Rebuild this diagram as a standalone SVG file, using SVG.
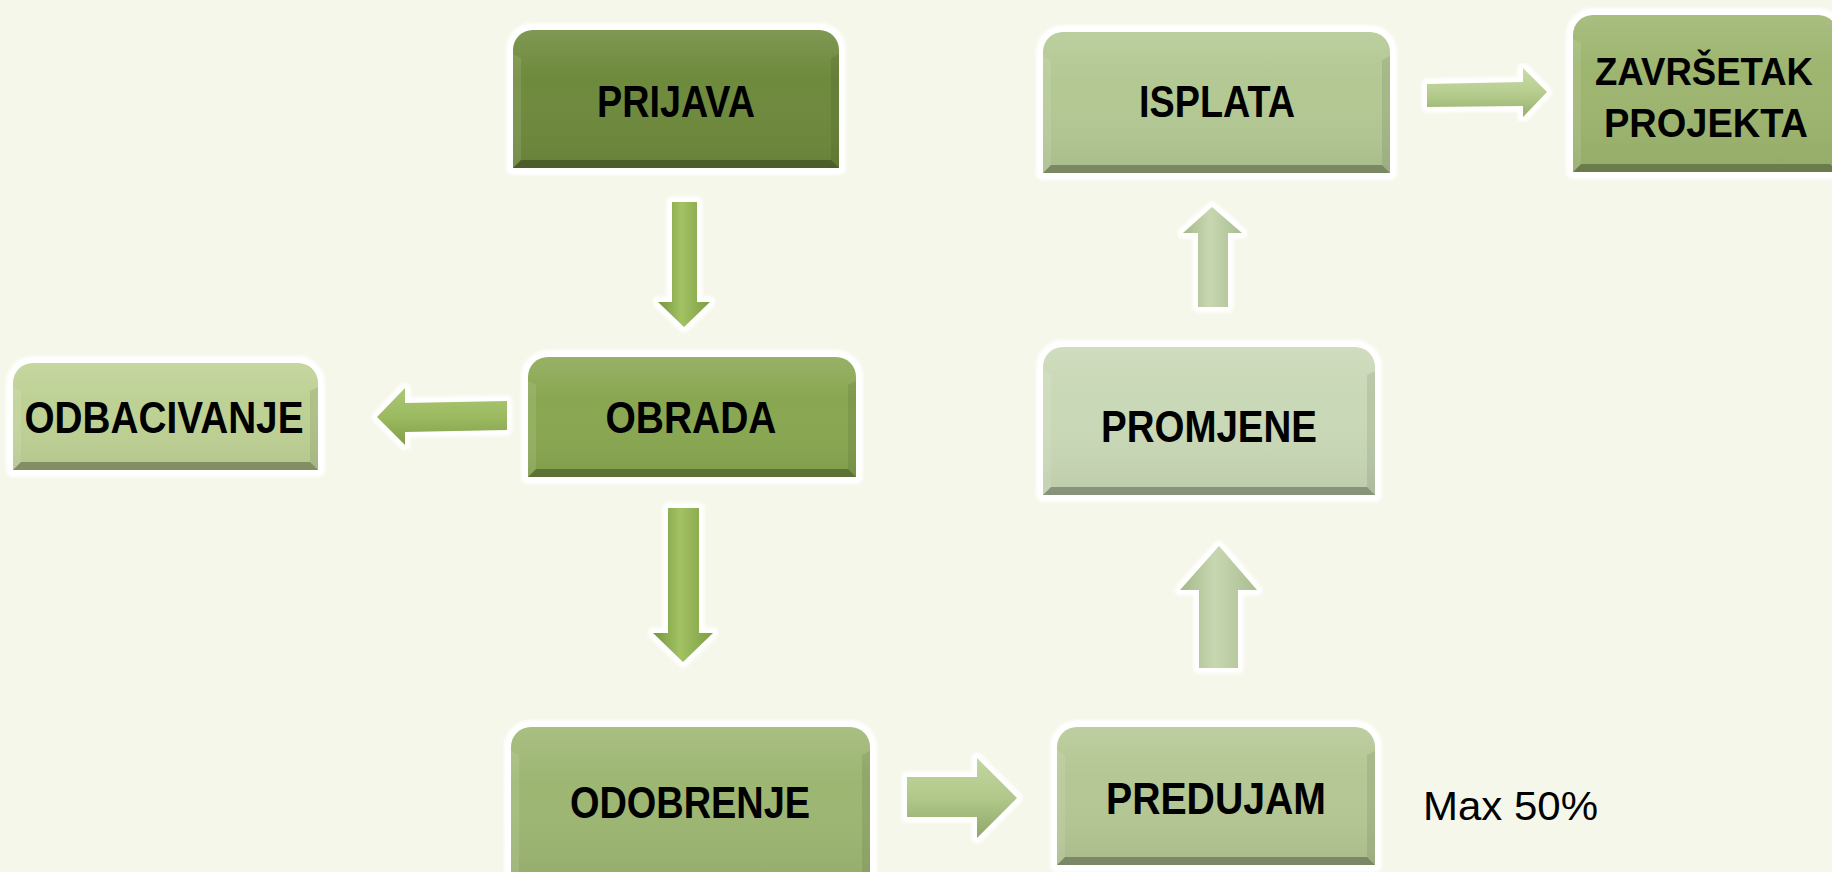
<svg xmlns="http://www.w3.org/2000/svg" width="1832" height="872" viewBox="0 0 1832 872">
  <defs>
    <style>
      .halo { fill: #ffffff; stroke: #ffffff; stroke-width: 14; stroke-linejoin: round; filter: url(#soft); }
      .ahalo { fill: #ffffff; stroke: #ffffff; stroke-width: 11; stroke-linejoin: round; filter: url(#soft); }
      .lbl { font-family: "Liberation Sans", Arial, sans-serif; font-weight: bold; font-size: 44px; fill: #000000; text-anchor: middle; }
      .lbl2 { font-family: "Liberation Sans", Arial, sans-serif; font-weight: bold; font-size: 41px; fill: #000000; text-anchor: middle; }
      .note { font-family: "Liberation Sans", Arial, sans-serif; font-size: 40px; fill: #000000; }
      .bevB { fill: #000000; fill-opacity: 0.28; }
      .bevR { fill: #000000; fill-opacity: 0.08; }
      .bevL { fill: #ffffff; fill-opacity: 0.10; }
    </style>
    <filter id="soft" x="-10%" y="-10%" width="120%" height="120%">
      <feGaussianBlur stdDeviation="1.5"/>
    </filter>
    <linearGradient id="shade" x1="0" y1="0" x2="0" y2="1">
      <stop offset="0" stop-color="#ffffff" stop-opacity="0.12"/>
      <stop offset="0.35" stop-color="#ffffff" stop-opacity="0"/>
      <stop offset="1" stop-color="#000000" stop-opacity="0.06"/>
    </linearGradient>
    <linearGradient id="gDown" x1="0" y1="0" x2="1" y2="0">
      <stop offset="0" stop-color="#74963c"/>
      <stop offset="0.45" stop-color="#a2c264"/>
      <stop offset="1" stop-color="#7d9d42"/>
    </linearGradient>
    <linearGradient id="gLeft" x1="0" y1="0" x2="0" y2="1">
      <stop offset="0" stop-color="#abc874"/>
      <stop offset="0.5" stop-color="#9cba60"/>
      <stop offset="1" stop-color="#7f9f48"/>
    </linearGradient>
    <linearGradient id="gRight" x1="0" y1="0" x2="0" y2="1">
      <stop offset="0" stop-color="#c2d6a0"/>
      <stop offset="0.5" stop-color="#b1c88a"/>
      <stop offset="1" stop-color="#8fa76a"/>
    </linearGradient>
    <linearGradient id="gUp" x1="0" y1="0" x2="1" y2="0">
      <stop offset="0" stop-color="#a4b88a"/>
      <stop offset="0.45" stop-color="#c8d7b1"/>
      <stop offset="1" stop-color="#aabd90"/>
    </linearGradient>
    <linearGradient id="gRight2" x1="0" y1="0" x2="0" y2="1">
      <stop offset="0" stop-color="#c9dca6"/>
      <stop offset="0.5" stop-color="#b6cd8f"/>
      <stop offset="1" stop-color="#97b06d"/>
    </linearGradient>
  </defs>

  <rect x="0" y="0" width="1832" height="872" fill="#f5f7ea"/>

  <g id="connectors">
    <g id="c-prijava-obrada">
      <polygon class="ahalo" points="672,202 697,202 697,302 710,302 684,327 658,302 672,302"/>
      <polygon fill="url(#gDown)" points="672,202 697,202 697,302 710,302 684,327 658,302 672,302"/>
    </g>
    <g id="c-obrada-odobrenje">
      <polygon class="ahalo" points="668,508 699,508 699,633 713,633 683,662 653,633 668,633"/>
      <polygon fill="url(#gDown)" points="668,508 699,508 699,633 713,633 683,662 653,633 668,633"/>
    </g>
    <g id="c-obrada-odbacivanje">
      <polygon class="ahalo" points="507,401 507,430 405,432 405,445 377,417 405,388 405,403"/>
      <polygon fill="url(#gLeft)" points="507,401 507,430 405,432 405,445 377,417 405,388 405,403"/>
    </g>
    <g id="c-odobrenje-predujam">
      <polygon class="ahalo" points="907,777 977,777 977,758 1017,798 977,838 977,817 907,817"/>
      <polygon fill="url(#gRight)" points="907,777 977,777 977,758 1017,798 977,838 977,817 907,817"/>
    </g>
    <g id="c-predujam-promjene">
      <polygon class="ahalo" points="1199,668 1199,590 1180,590 1219,546 1257,590 1238,590 1238,668"/>
      <polygon fill="url(#gUp)" points="1199,668 1199,590 1180,590 1219,546 1257,590 1238,590 1238,668"/>
    </g>
    <g id="c-promjene-isplata">
      <polygon class="ahalo" points="1198,307 1198,233 1183,233 1212,207 1242,233 1228,233 1228,307"/>
      <polygon fill="url(#gUp)" points="1198,307 1198,233 1183,233 1212,207 1242,233 1228,233 1228,307"/>
    </g>
    <g id="c-isplata-zavrsetak">
      <polygon class="ahalo" points="1427,84 1523,82 1523,68 1547,92 1523,117 1523,106 1427,107"/>
      <polygon fill="url(#gRight2)" points="1427,84 1523,82 1523,68 1547,92 1523,117 1523,106 1427,107"/>
    </g>
  </g>

  <g id="node-prijava">
    <path class="halo" d="M513,168 V50 A20,20 0 0 1 533,30 H819 A20,20 0 0 1 839,50 V168 Z"/>
    <path fill="#6e8a3c" d="M513,168 V50 A20,20 0 0 1 533,30 H819 A20,20 0 0 1 839,50 V168 Z"/>
    <path fill="url(#shade)" d="M513,168 V50 A20,20 0 0 1 533,30 H819 A20,20 0 0 1 839,50 V168 Z"/>
    <polygon class="bevB" points="513,168 839,168 831,160 521,160"/>
    <polygon class="bevR" points="839,54 839,168 831,160 831,58"/>
    <polygon class="bevL" points="513,54 513,168 521,160 521,58"/>
    <text class="lbl" x="676" y="117" textLength="158" lengthAdjust="spacingAndGlyphs">PRIJAVA</text>
  </g>

  <g id="node-obrada">
    <path class="halo" d="M528,477 V377 A20,20 0 0 1 548,357 H836 A20,20 0 0 1 856,377 V477 Z"/>
    <path fill="#89a751" d="M528,477 V377 A20,20 0 0 1 548,357 H836 A20,20 0 0 1 856,377 V477 Z"/>
    <path fill="url(#shade)" d="M528,477 V377 A20,20 0 0 1 548,357 H836 A20,20 0 0 1 856,377 V477 Z"/>
    <polygon class="bevB" points="528,477 856,477 848,469 536,469"/>
    <polygon class="bevR" points="856,381 856,477 848,469 848,385"/>
    <polygon class="bevL" points="528,381 528,477 536,469 536,385"/>
    <text class="lbl" x="691" y="433" textLength="171" lengthAdjust="spacingAndGlyphs">OBRADA</text>
  </g>

  <g id="node-odbacivanje">
    <path class="halo" d="M13,470 V383 A20,20 0 0 1 33,363 H298 A20,20 0 0 1 318,383 V470 Z"/>
    <path fill="#bed194" d="M13,470 V383 A20,20 0 0 1 33,363 H298 A20,20 0 0 1 318,383 V470 Z"/>
    <path fill="url(#shade)" d="M13,470 V383 A20,20 0 0 1 33,363 H298 A20,20 0 0 1 318,383 V470 Z"/>
    <polygon class="bevB" points="13,470 318,470 310,462 21,462"/>
    <polygon class="bevR" points="318,387 318,470 310,462 310,391"/>
    <polygon class="bevL" points="13,387 13,470 21,462 21,391"/>
    <text class="lbl" x="164" y="433" textLength="279" lengthAdjust="spacingAndGlyphs">ODBACIVANJE</text>
  </g>

  <g id="node-odobrenje">
    <path class="halo" d="M511,885 V747 A20,20 0 0 1 531,727 H850 A20,20 0 0 1 870,747 V885 Z"/>
    <path fill="#9db672" d="M511,885 V747 A20,20 0 0 1 531,727 H850 A20,20 0 0 1 870,747 V885 Z"/>
    <path fill="url(#shade)" d="M511,885 V747 A20,20 0 0 1 531,727 H850 A20,20 0 0 1 870,747 V885 Z"/>
    <polygon class="bevR" points="870,751 870,885 862,885 862,755"/>
    <polygon class="bevL" points="511,751 511,885 519,885 519,755"/>
    <text class="lbl" x="690" y="818" textLength="240" lengthAdjust="spacingAndGlyphs">ODOBRENJE</text>
  </g>

  <g id="node-predujam">
    <path class="halo" d="M1057,865 V747 A20,20 0 0 1 1077,727 H1355 A20,20 0 0 1 1375,747 V865 Z"/>
    <path fill="#b5c794" d="M1057,865 V747 A20,20 0 0 1 1077,727 H1355 A20,20 0 0 1 1375,747 V865 Z"/>
    <path fill="url(#shade)" d="M1057,865 V747 A20,20 0 0 1 1077,727 H1355 A20,20 0 0 1 1375,747 V865 Z"/>
    <polygon class="bevB" points="1057,865 1375,865 1367,857 1065,857"/>
    <polygon class="bevR" points="1375,751 1375,865 1367,857 1367,755"/>
    <polygon class="bevL" points="1057,751 1057,865 1065,857 1065,755"/>
    <text class="lbl" x="1216" y="814" textLength="220" lengthAdjust="spacingAndGlyphs">PREDUJAM</text>
  </g>

  <g id="node-promjene">
    <path class="halo" d="M1043,495 V367 A20,20 0 0 1 1063,347 H1355 A20,20 0 0 1 1375,367 V495 Z"/>
    <path fill="#c9d8b6" d="M1043,495 V367 A20,20 0 0 1 1063,347 H1355 A20,20 0 0 1 1375,367 V495 Z"/>
    <path fill="url(#shade)" d="M1043,495 V367 A20,20 0 0 1 1063,347 H1355 A20,20 0 0 1 1375,367 V495 Z"/>
    <polygon class="bevB" points="1043,495 1375,495 1367,487 1051,487"/>
    <polygon class="bevR" points="1375,371 1375,495 1367,487 1367,375"/>
    <polygon class="bevL" points="1043,371 1043,495 1051,487 1051,375"/>
    <text class="lbl" x="1209" y="442" textLength="216" lengthAdjust="spacingAndGlyphs">PROMJENE</text>
  </g>

  <g id="node-isplata">
    <path class="halo" d="M1043,173 V52 A20,20 0 0 1 1063,32 H1370 A20,20 0 0 1 1390,52 V173 Z"/>
    <path fill="#b3c893" d="M1043,173 V52 A20,20 0 0 1 1063,32 H1370 A20,20 0 0 1 1390,52 V173 Z"/>
    <path fill="url(#shade)" d="M1043,173 V52 A20,20 0 0 1 1063,32 H1370 A20,20 0 0 1 1390,52 V173 Z"/>
    <polygon class="bevB" points="1043,173 1390,173 1382,165 1051,165"/>
    <polygon class="bevR" points="1390,56 1390,173 1382,165 1382,60"/>
    <polygon class="bevL" points="1043,56 1043,173 1051,165 1051,60"/>
    <text class="lbl" x="1217" y="117" textLength="156" lengthAdjust="spacingAndGlyphs">ISPLATA</text>
  </g>

  <g id="node-zavrsetak">
    <path class="halo" d="M1573,172 V35 A20,20 0 0 1 1593,15 H1818 A20,20 0 0 1 1838,35 V172 Z"/>
    <path fill="#9db56f" d="M1573,172 V35 A20,20 0 0 1 1593,15 H1818 A20,20 0 0 1 1838,35 V172 Z"/>
    <path fill="url(#shade)" d="M1573,172 V35 A20,20 0 0 1 1593,15 H1818 A20,20 0 0 1 1838,35 V172 Z"/>
    <polygon class="bevB" points="1573,172 1838,172 1830,164 1581,164"/>
    <polygon class="bevL" points="1573,39 1573,172 1581,164 1581,43"/>
    <text class="lbl2" x="1704" y="85" font-size="38" textLength="218" lengthAdjust="spacingAndGlyphs" style="font-size:38px">ZAVRŠETAK</text>
    <text class="lbl2" x="1706" y="137" textLength="204" lengthAdjust="spacingAndGlyphs">PROJEKTA</text>
  </g>

  <text class="note" x="1423" y="820" textLength="175" lengthAdjust="spacingAndGlyphs">Max 50%</text>
</svg>
